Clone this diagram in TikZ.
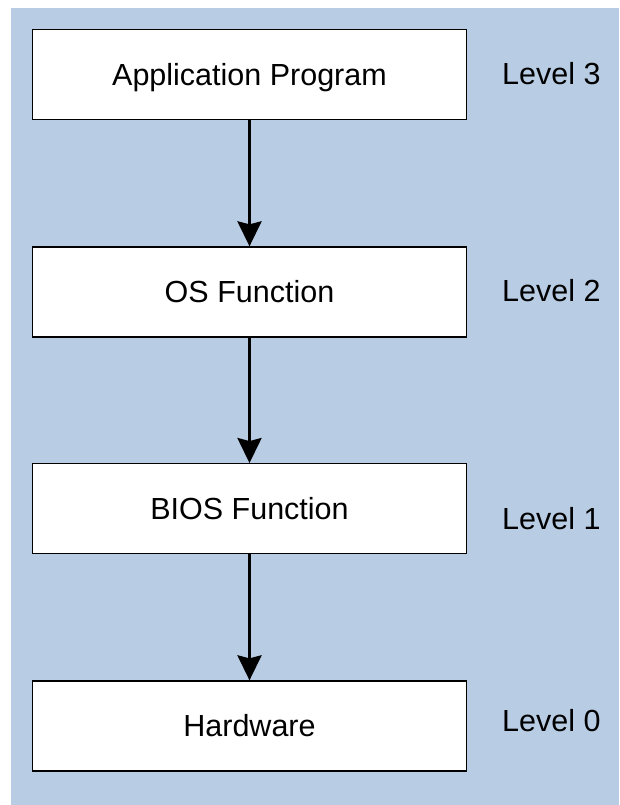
\documentclass[tikz,border=0pt]{standalone}
\usepackage{fontspec}
\setmainfont{Liberation Sans}
\usetikzlibrary{arrows.meta}
\definecolor{panel}{HTML}{B8CCE4}
\begin{document}
\begin{tikzpicture}[x=1pt,y=-1pt,
  layer/.style={draw=black, line width=1.3pt, fill=white,
    minimum width=434pt, minimum height=90pt, inner sep=0pt,
    text height=21.8pt, text depth=0pt,
    font=\fontsize{30.5}{36}\selectfont},
  levellabel/.style={anchor=base west, inner sep=0pt,
    font=\fontsize{30.5}{36}\selectfont},
  flow/.style={line width=3pt,
    -{Stealth[length=25pt, width=24pt, inset=3pt]}}]
\useasboundingbox (0,0) rectangle (619,805);
% background panel
\fill[panel] (11,8) rectangle (619,805);

% software/hardware layers
\node[layer] (app)  at (249.5,74.3)  {Application Program};
\node[layer] (os)   at (249.5,292)   {OS Function};
\node[layer] (bios) at (249.5,508.7) {BIOS Function};
\node[layer] (hw)   at (249.5,726)   {Hardware};

% level labels
\node[levellabel] (l3) at (502,84.5)  {Level 3};
\node[levellabel] (l2) at (502,301.5) {Level 2};
\node[levellabel] (l1) at (502,529)   {Level 1};
\node[levellabel] (l0) at (502,731)   {Level 0};

% call flow
\draw[flow] (app) -- (os);
\draw[flow] (os) -- (bios);
\draw[flow] (bios) -- (hw);
\end{tikzpicture}
\end{document}
